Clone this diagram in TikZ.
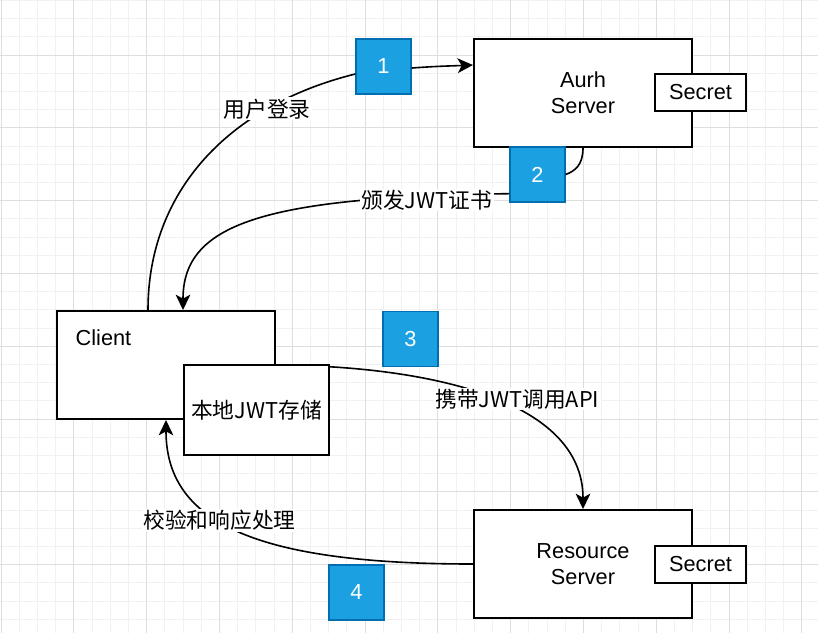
\documentclass[tikz,border=0pt]{standalone}
\usepackage{fontspec}
\setmainfont{Liberation Sans}
\newfontfamily\cjk{Noto Sans CJK SC}
\usetikzlibrary{arrows.meta,positioning,calc}
\definecolor{badgefill}{HTML}{1BA1E2}
\definecolor{badgeline}{HTML}{006EAF}
\definecolor{gridmajor}{HTML}{DEDEDE}
\definecolor{gridminor}{HTML}{F1F1F1}

\begin{document}
\begin{tikzpicture}[
        x=0.75pt, y=-0.75pt,
        font=\fontsize{16.3}{19.5}\selectfont,
        server/.style={draw, line width=1.5pt, fill=white, inner sep=0pt,
          minimum width=163.5pt, minimum height=81pt, align=center},
        secret/.style={draw, line width=1.5pt, fill=white, inner sep=0pt,
          minimum width=68.25pt, minimum height=27.75pt},
        store/.style={draw, line width=1.5pt, fill=white, inner sep=0pt,
          minimum width=108.75pt, minimum height=67.5pt, font=\fontsize{16.3}{19.5}\selectfont\cjk},
        badge/.style={draw=badgeline, line width=1pt, fill=badgefill, text=white,
          minimum size=41.25pt, inner sep=0pt},
        conn/.style={line width=1.2pt},
        arr/.style={conn, -{Stealth[length=11.5pt, width=11pt, inset=3pt]}},
        lbl/.style={fill=white, inner sep=1pt, font=\fontsize{16.3}{19.5}\selectfont\cjk}
      ]
        % 画布与网格
        \useasboundingbox (0,0) rectangle (818,633);
        \fill[white] (0,0) rectangle (818,633);
        \foreach \i in {0,...,44} {\draw[gridminor, line width=0.75pt] ({1+18.2*\i},0) -- ({1+18.2*\i},633);}
        \foreach \j in {1,...,35} {\draw[gridminor, line width=0.75pt] (0,{-17.8+18.2*\j}) -- (818,{-17.8+18.2*\j});}
        \foreach \i in {0,...,11} {\draw[gridmajor, line width=0.75pt] ({1+72.8*\i},0) -- ({1+72.8*\i},633);}
        \foreach \j in {1,...,8} {\draw[gridmajor, line width=0.75pt] (0,{-17.8+72.8*\j}) -- (818,{-17.8+72.8*\j});}
        % 服务端与客户端
        \node[server] (aurh) at (583,93) {Aurh\\Server};
        \node[secret] (sec1) at (700.5,92.5) {Secret};
        \node[server] (res) at (583,564) {Resource\\Server};
        \node[secret] (sec2) at (700.5,564.5) {Secret};
        \node[server] (client) at (166,365) {};
        \node[anchor=west] (clientname) at (71,338) {Client};
        \node[store] (store) at (256.5,410) {本地JWT存储};
        % 步骤编号
        \node[badge] (b1) at (383.5,66.5) {1};
        \node[badge] (b2) at (537.5,174.5) {2};
        \node[badge] (b3) at (410.5,339) {3};
        \node[badge] (b4) at (356.5,592.5) {4};
        % 定义连线端点
        \coordinate (cout) at ($(client.north)+(-18,0)$);
        \coordinate (cin) at ($(client.north)+(17,0)$);
        \coordinate (b1in) at ($(b1.west)+(0,7.5)$);
        \coordinate (b1out) at ($(b1.east)+(0,1.5)$);
        \coordinate (aurhin) at ($(aurh.north west)+(0,27)$);
        \coordinate (b2out) at ($(b2.south west)+(0,-9)$);
        % 1 用户登录
        \draw[conn] (cout) .. controls (148,190) and (230,105) .. node[lbl, pos=0.74] {用户登录} (b1in);
        \draw[arr] (b1out) .. controls (440,66) and (450,66) .. (aurhin);
        % 2 颁发证书
        \draw[conn] (aurh.south) .. controls (583,165) and (575,171) .. (b2.east);
        \draw[arr] (b2out) .. controls (260,197) and (183,225) .. node[lbl, pos=0.12, yshift=-3pt] {颁发JWT证书} (cin);
        % 3 调用API
        \draw[arr] (client.east) .. controls (430,366) and (583,400) .. node[lbl, pos=0.58, yshift=7pt, xshift=3pt] {携带JWT调用API} (res.north);
        % 4 校验与响应
        \draw[arr] (res.west) .. controls (250,564) and (166,520) .. node[lbl, pos=0.56] {校验和响应处理} (client.south);
        % 重画存储框
        \node[store] at (store) {本地JWT存储};
      \end{tikzpicture}
\end{document}
